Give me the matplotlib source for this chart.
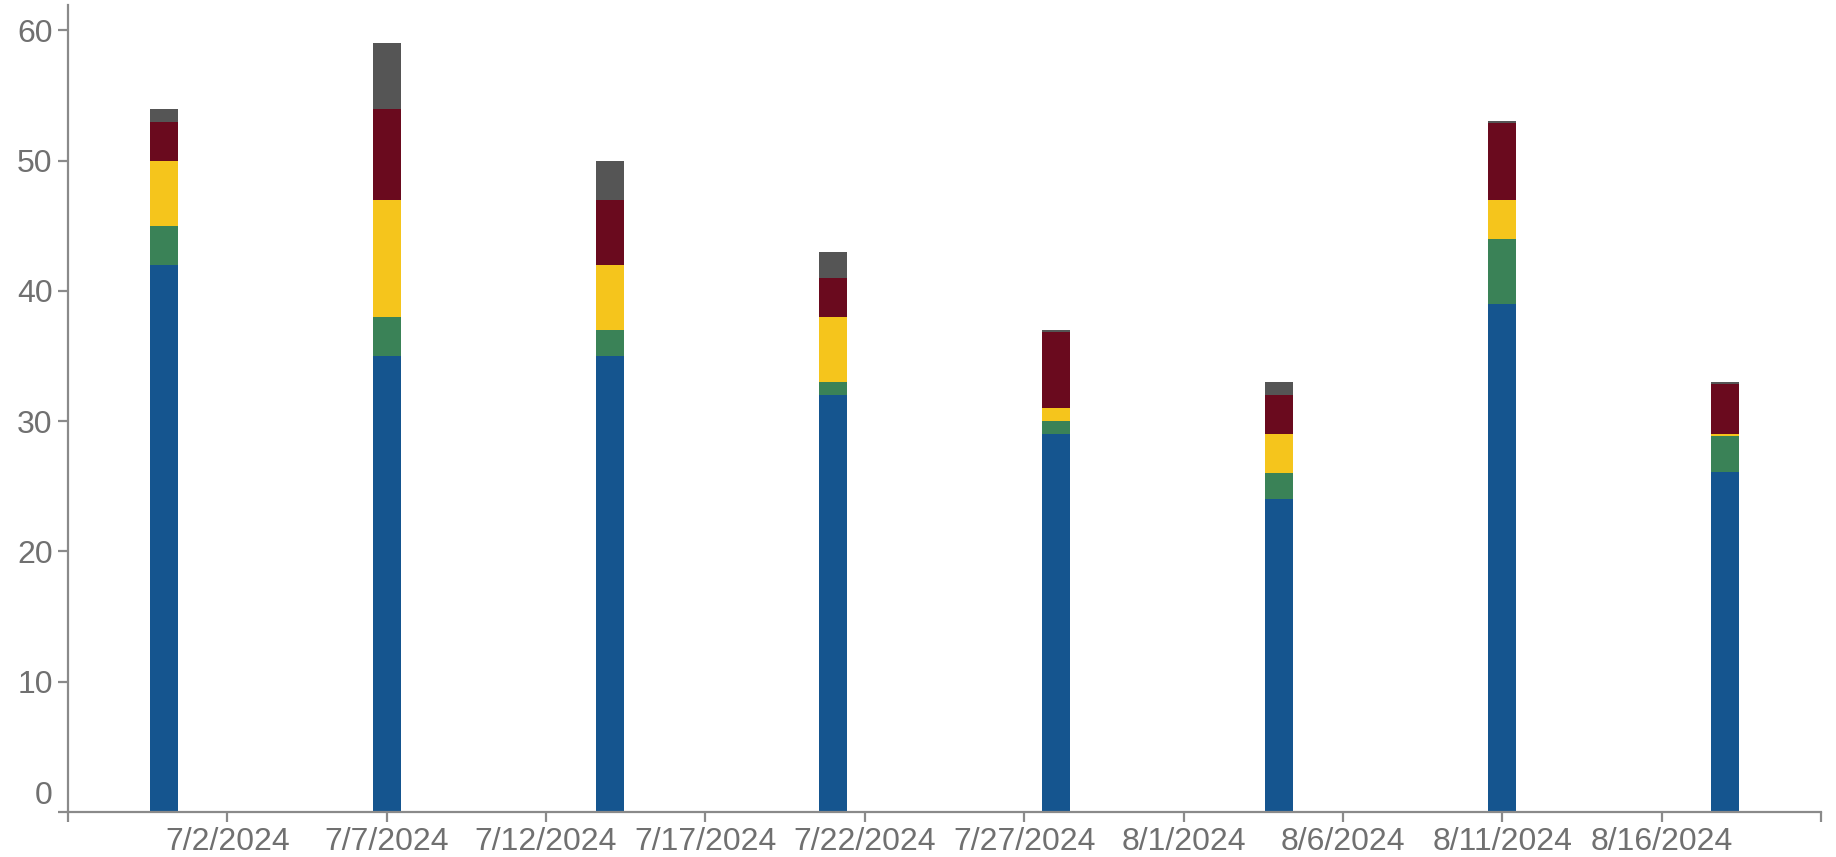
import matplotlib
matplotlib.use("Agg")
import matplotlib.pyplot as plt
import matplotlib.dates as mdates
import matplotlib.transforms as mtransforms
from datetime import datetime, timedelta

plt.rcParams['font.family'] = ['Liberation Sans', 'DejaVu Sans']

weeks = ["2024-06-30", "2024-07-07", "2024-07-14", "2024-07-21",
         "2024-07-28", "2024-08-04", "2024-08-11", "2024-08-18"]
s_blue = [42, 35, 35, 32, 29, 24, 39, 26.1]
s_green = [3, 3, 2, 1, 1, 2, 5, 2.75]
s_yellow = [5, 9, 5, 5, 1, 3, 3, 0.2]
s_maroon = [3, 7, 5, 3, 5.85, 3, 5.9, 3.8]
s_gray = [1, 5, 3, 2, 0.15, 1, 0.15, 0.17]
tick_labels = ["7/2/2024", "7/7/2024", "7/12/2024", "7/17/2024", "7/22/2024",
               "7/27/2024", "8/1/2024", "8/6/2024", "8/11/2024", "8/16/2024"]

series = [s_blue, s_green, s_yellow, s_maroon, s_gray]
colors = ["#15558f", "#3a8257", "#f5c51c", "#6a0a1e", "#555555"]

dates = [datetime.strptime(d, "%Y-%m-%d") for d in weeks]
xnum = mdates.date2num(dates)

W, H = 1836, 857
fig = plt.figure(figsize=(W / 100, H / 100), dpi=100)
ax = fig.add_axes([68 / W, 45 / H, (1821 - 68) / W, (852 - 45) / H])

bottom = [0.0] * len(dates)
for vals, c in zip(series, colors):
    ax.bar(xnum, vals, width=0.88, bottom=bottom, color=c, linewidth=0)
    bottom = [b + v for b, v in zip(bottom, vals)]

x0 = mdates.date2num(dates[0] - timedelta(days=3))
x1 = mdates.date2num(dates[-1] + timedelta(days=3))
ax.set_xlim(x0, x1)
ax.set_ylim(0, max(bottom) * 1.05)

tick_dates = [mdates.date2num(datetime.strptime(t, "%m/%d/%Y")) for t in tick_labels]
ax.set_xticks([x0] + tick_dates + [x1])
ax.set_xticklabels([""] + tick_labels + [""])
ax.set_yticks([0, 10, 20, 30, 40, 50, 60])
ax.set_yticklabels(["0", "10", "20", "30", "40", "50", "60"])

axis_col = "#8a8a8a"
for sp in ["top", "right"]:
    ax.spines[sp].set_visible(False)
for sp in ["left", "bottom"]:
    ax.spines[sp].set_color(axis_col)
    ax.spines[sp].set_linewidth(1.6)
ax.tick_params(axis="both", colors=axis_col, length=7, width=1.6,
               labelsize=23, labelcolor="#707070")
ax.tick_params(axis="x", pad=4)
ax.tick_params(axis="y", pad=4)

# shift the "0" label upward like the reference
lab0 = ax.yaxis.get_major_ticks()[0].label1
lab0.set_transform(lab0.get_transform() + mtransforms.ScaledTranslation(0, 19 / 100, fig.dpi_scale_trans))

fig.savefig("out.png", dpi=100, facecolor="white")
